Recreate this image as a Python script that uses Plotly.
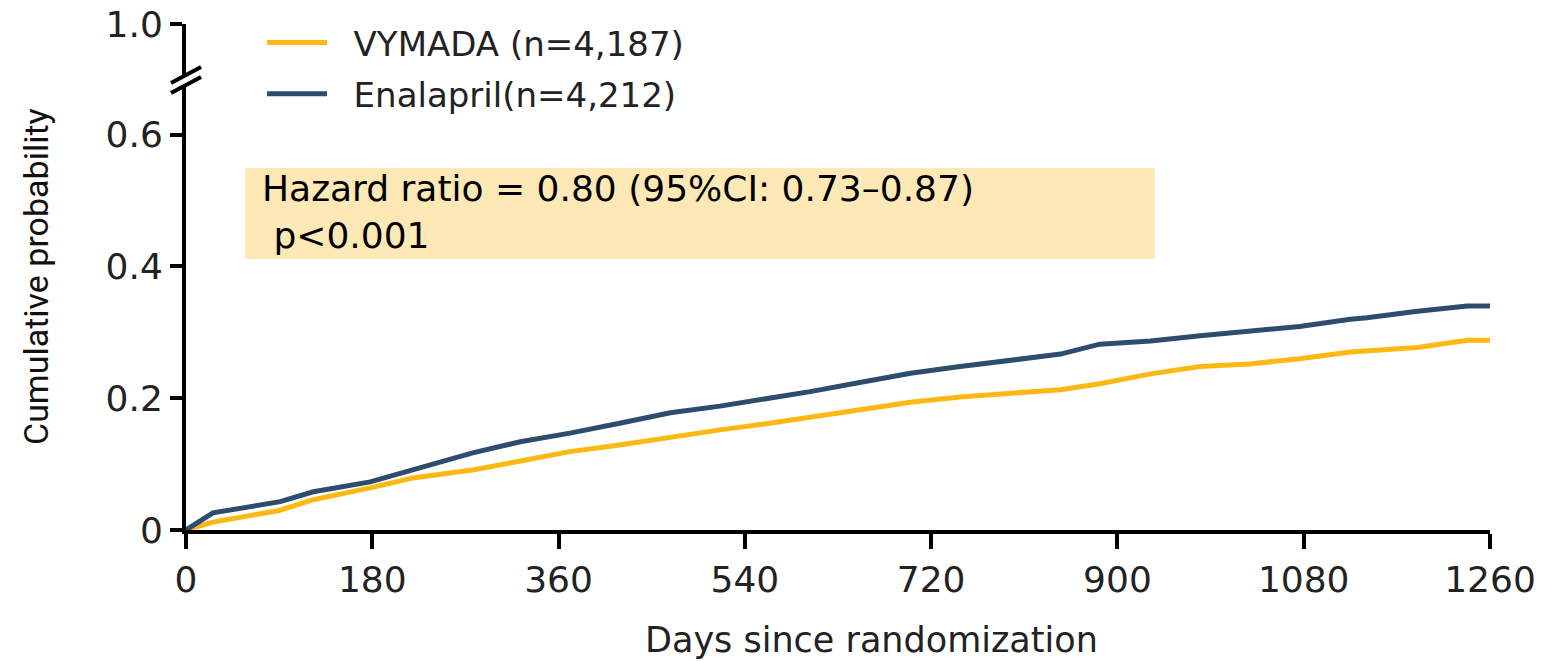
import plotly.graph_objects as go

# ---- data ----
enal_days = [0, 26, 91, 123, 178, 219, 277, 323, 371, 419, 468, 516, 548, 603, 651, 700,
             748, 796, 845, 883, 932, 980, 1028, 1076, 1125, 1141, 1190, 1238, 1260]
enal_prob = [0, 0.026, 0.043, 0.058, 0.073, 0.091, 0.117, 0.134, 0.147, 0.162, 0.178, 0.188,
             0.196, 0.210, 0.224, 0.238, 0.248, 0.257, 0.267, 0.282, 0.287, 0.295, 0.302,
             0.309, 0.320, 0.322, 0.332, 0.340, 0.340]

vym_days = [0, 26, 91, 123, 178, 219, 277, 323, 371, 419, 468, 516, 564, 603, 651, 700,
            748, 796, 845, 883, 932, 980, 1028, 1076, 1125, 1190, 1221, 1238, 1260]
vym_prob = [0, 0.012, 0.030, 0.046, 0.064, 0.079, 0.091, 0.104, 0.119, 0.129, 0.141, 0.152,
            0.162, 0.171, 0.181, 0.194, 0.202, 0.208, 0.213, 0.222, 0.237, 0.248, 0.252,
            0.260, 0.270, 0.277, 0.285, 0.288, 0.288]

x_ticks = [0, 180, 360, 540, 720, 900, 1080, 1260]
y_tickvals = [0, 0.2, 0.4, 0.6, 0.768]
y_ticktext = ["0", "0.2", "0.4", "0.6", "1.0"]

series_names = ["VYMADA (n=4,187)", "Enalapril(n=4,212)"]
colors = ["#FDB913", "#2C4D6E"]

W, H = 1563, 661
L, R, T, B = 186, 73, 24, 131
PW, PH = W - L - R, H - T - B

def px(x):
    return (x - L) / PW

def py(y):
    return (H - B - y) / PH

FONT = "DejaVu Sans"
NB = "\u00a0\u00a0"

fig = go.Figure()
fig.add_trace(go.Scatter(x=vym_days, y=vym_prob, mode="lines",
                         line=dict(color=colors[0], width=5), name=NB + series_names[0],
                         legendgroup="a"))
fig.add_trace(go.Scatter(x=enal_days, y=enal_prob, mode="lines",
                         line=dict(color=colors[1], width=5), name=NB + series_names[1],
                         legendgroup="b"))

shapes = [
    # highlight box
    dict(type="rect", xref="paper", yref="paper", x0=px(245), x1=px(1155), y0=py(259), y1=py(168),
         fillcolor="#FEE8B5", line=dict(width=0), layer="below"),
    # axis break: white gap then two slashes
    dict(type="line", xref="paper", yref="paper", x0=px(174), y0=py(86), x1=px(198), y1=py(73),
         line=dict(color="white", width=7), layer="above"),
    dict(type="line", xref="paper", yref="paper", x0=px(171), y0=py(83), x1=px(201), y1=py(67),
         line=dict(color="black", width=4), layer="above"),
    dict(type="line", xref="paper", yref="paper", x0=px(171), y0=py(93), x1=px(201), y1=py(77),
         line=dict(color="black", width=4), layer="above"),
]

annotations = [
    dict(xref="paper", yref="paper", x=px(260), y=py(212), xanchor="left", yanchor="middle",
         text="Hazard ratio = 0.80 (95%CI: 0.73\u20130.87)<br> p<0.001", align="left",
         showarrow=False, font=dict(family=FONT, size=36, color="black")),
    dict(xref="paper", yref="paper", x=px(871), y=py(640), xanchor="center", yanchor="middle",
         text="Days since randomization", showarrow=False,
         font=dict(family=FONT, size=35, color="#222")),
    dict(xref="paper", yref="paper", x=px(36), y=py(277), xanchor="center", yanchor="middle",
         text="Cumulative probability", textangle=-90, showarrow=False,
         font=dict(family="Liberation Sans Narrow, Roboto, sans-serif", size=34, color="#111")),
]

fig.update_layout(
    width=W, height=H,
    margin=dict(l=L, r=R, t=T, b=B, autoexpand=False),
    plot_bgcolor="white", paper_bgcolor="white",
    font=dict(family=FONT, color="#222"),
    showlegend=True,
    legend=dict(x=px(262), y=py(14), xanchor="left", yanchor="top",
                font=dict(family=FONT, size=34, color="#222"),
                bgcolor="rgba(0,0,0,0)", tracegroupgap=4, itemwidth=60),
    shapes=shapes,
    annotations=annotations,
    xaxis=dict(range=[0, 1260], tickvals=x_ticks, showline=True, linecolor="black", linewidth=4,
               ticks="outside", ticklen=15, tickwidth=4, tickcolor="black", automargin=False,
               tickfont=dict(family=FONT, size=36, color="#222"), showgrid=False, zeroline=False),
    yaxis=dict(range=[0, 0.768], tickvals=y_tickvals, ticktext=y_ticktext, showline=True,
               linecolor="black", linewidth=4, ticks="outside", ticklen=12, tickwidth=4,
               tickcolor="black", tickfont=dict(family=FONT, size=36, color="#222"),
               automargin=False, showgrid=False, zeroline=False),
)

fig.write_html("out.html")
